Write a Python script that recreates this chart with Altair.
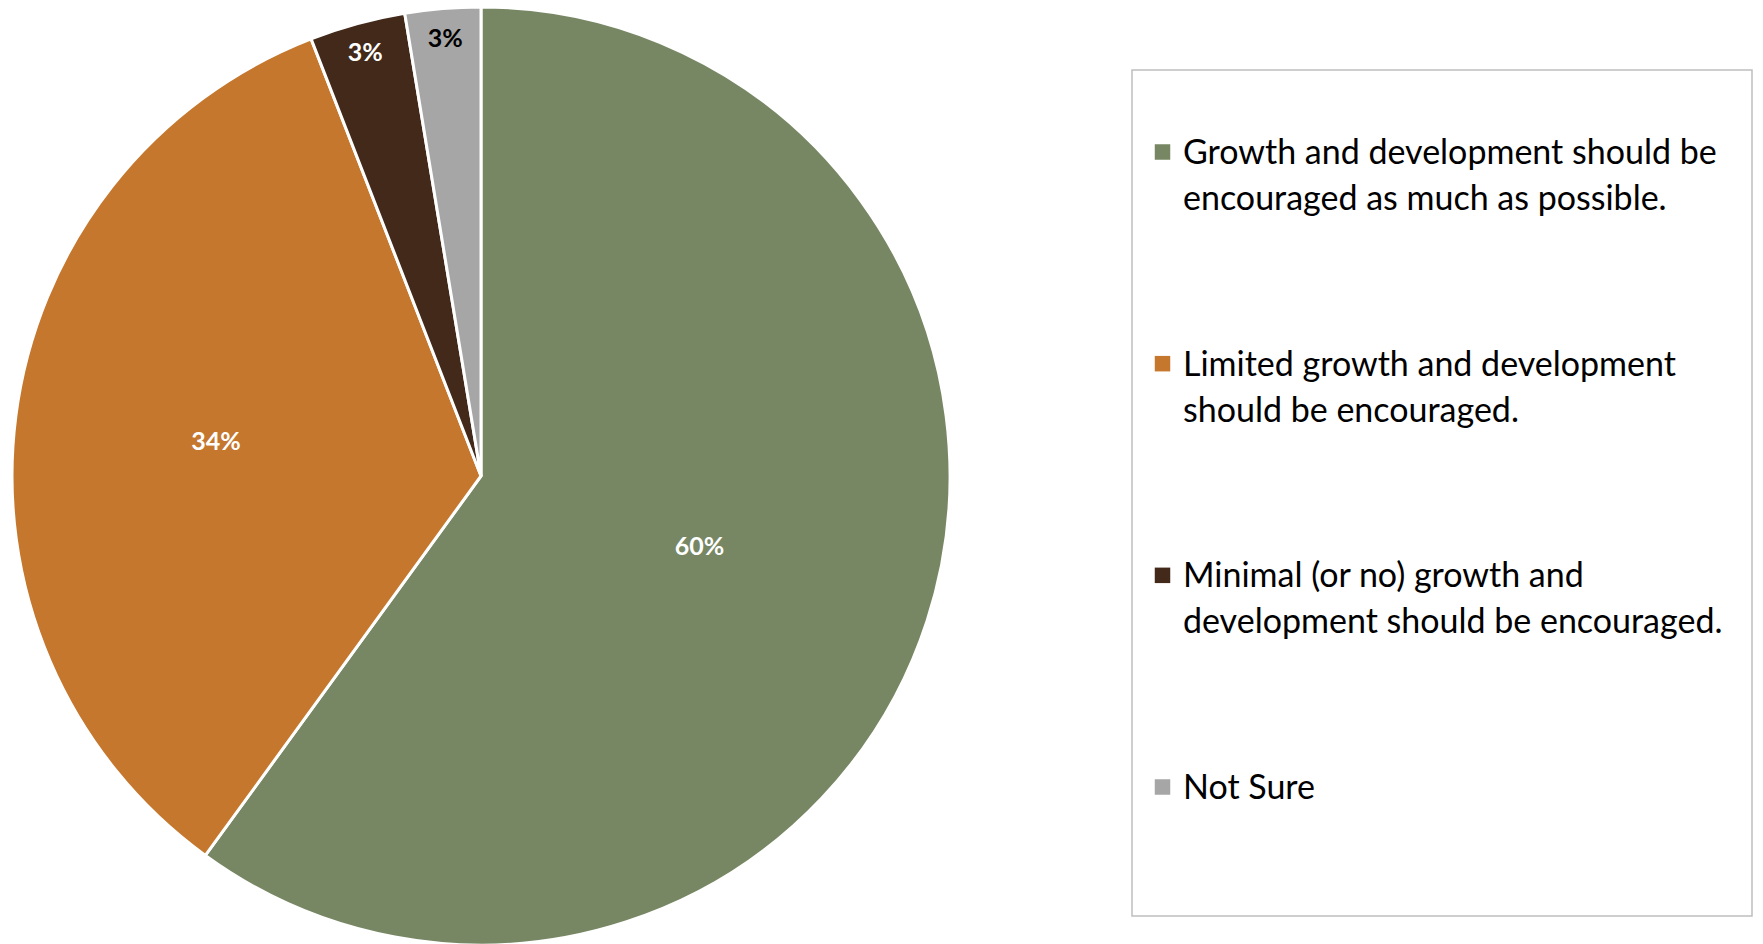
import altair as alt
import pandas as pd

categories = [
    "Growth and development should be encouraged as much as possible.",
    "Limited growth and development should be encouraged.",
    "Minimal (or no) growth and development should be encouraged.",
    "Not Sure",
]
legend_labels = [
    "Growth and development should be\nencouraged as much as possible.",
    "Limited growth and development\nshould be encouraged.",
    "Minimal (or no) growth and\ndevelopment should be encouraged.",
    "Not Sure",
]
values = [60.0, 34.1, 3.3, 2.6]
colors = ["#778764", "#C4772D", "#42291A", "#A6A6A6"]

df = pd.DataFrame({
    "category": categories,
    "legend": legend_labels,
    "value": values,
    "idx": list(range(len(categories))),
})

W, H = 1763, 944
CX, CY, R = 481, 476, 469
FONT = "Lato"

color_scale = alt.Scale(domain=categories, range=colors)

base = alt.Chart(df)

pie = base.mark_arc(radius=R, stroke="white", strokeWidth=3).encode(
    theta=alt.Theta("value:Q", stack=True),
    order=alt.Order("idx:Q"),
    color=alt.Color("category:N", scale=color_scale, legend=None),
    x=alt.value(CX),
    y=alt.value(CY),
)

labels = base.transform_window(
    cum="sum(value)", sort=[alt.SortField("idx", order="ascending")],
    frame=[None, 0],
).transform_calculate(
    mid="datum.cum - datum.value / 2",
    lr=f"datum.value >= 50 ? {0.49 * R} : datum.value >= 10 ? {0.57 * R} : {0.935 * R}",
    pct="format(datum.value / 100, '.0%')",
).mark_text(font=FONT, fontSize=25, fontWeight="bold", align="center", baseline="middle").encode(
    theta=alt.Theta("mid:Q", stack=None),
    radius=alt.Radius("lr:Q", scale=None),
    text="pct:N",
    color=alt.condition(alt.datum.category == "Not Sure", alt.value("#000000"), alt.value("#FFFFFF")),
    x=alt.value(CX),
    y=alt.value(CY),
)

box = alt.Chart(pd.DataFrame({"a": [0]})).mark_rect(
    fill="white", stroke="#BFBFBF", strokeWidth=1.5
).encode(
    x=alt.value(1132), x2=alt.value(1752), y=alt.value(70), y2=alt.value(916)
)

ypos = alt.Y(
    "category:N",
    sort=categories,
    scale=alt.Scale(type="point", domain=categories, range=[152, 787], padding=0),
    axis=None,
)

leg_sym = base.mark_square(size=240, opacity=1).encode(
    x=alt.value(1162.5),
    y=ypos,
    color=alt.Color("category:N", scale=color_scale, legend=None),
)

leg_txt = base.mark_text(
    font=FONT, fontSize=34, align="left", baseline="alphabetic", dy=12,
    lineBreak="\n", lineHeight=46, color="#000000",
).encode(
    x=alt.value(1183),
    y=ypos,
    text="legend:N",
)

chart = alt.layer(box, pie, labels, leg_sym, leg_txt).properties(
    width=W, height=H, autosize=alt.AutoSizeParams(type="none"), padding=0,
    background="white",
).configure_view(stroke=None)

chart.save("out.html", embed_options={"renderer": "svg", "actions": False})
